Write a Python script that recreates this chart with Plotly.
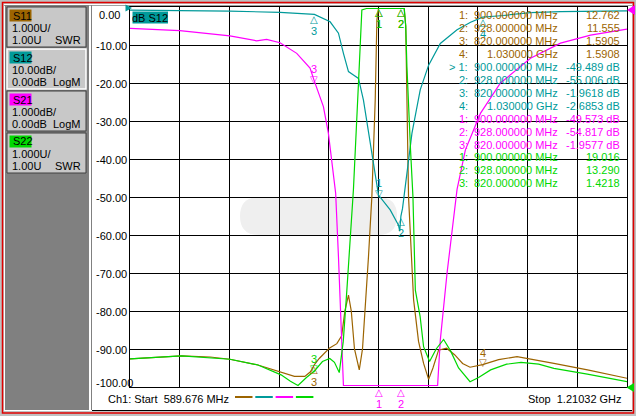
import numpy as np
import plotly.graph_objects as go

# window / plot geometry in screen pixels
W, H = 636, 416
ML, MR, MT, MB = 130, 9, 7, 29
PW, PH = W - ML - MR, H - MT - MB

start_mhz = 589.676
stop_mhz = 1210.32

# S11, SWR (brown)
s11_freq = [589.7, 620, 654, 690, 714.4, 749.5, 778.3, 795, 808, 815, 820, 826, 839, 848, 854, 858,
            862.5, 866, 870, 876, 880, 884, 887.5, 891.7, 895.9, 898, 899.5, 900, 915, 928, 932, 934,
            935.5, 937.5, 943.8, 950, 956.3, 962.6, 968, 975, 985, 995, 1005, 1014.3, 1030, 1050,
            1073, 1095, 1119, 1161, 1210.3]
s11_swr = [1.74, 1.78, 1.82, 1.79, 1.73, 1.58, 1.38, 1.28, 1.28, 1.40, 1.5905, 1.75, 2.03, 2.14, 2.35, 3.0,
           3.42, 3.0, 2.0, 1.45, 2.0, 3.2, 4.43, 6.01, 8.55, 10.66, 12.0, 12.762, 14.0, 11.555, 11.2, 10.5,
           8.55, 6.01, 3.3, 2.2, 1.62, 1.2, 1.5, 1.97, 2.02, 1.85, 1.62, 1.52, 1.5908, 1.72,
           1.80, 1.72, 1.62, 1.45, 1.23]

# S12, dB (teal)
s12_freq = [589.7, 651.9, 714.4, 777, 800, 820, 839.6, 850, 856.2, 862.5, 868.7, 875, 881.2, 887.5,
            893.7, 898, 900, 914.6, 925, 926.5, 928, 930, 931.3, 939.6, 941.8, 952.1, 962.6, 977.2,
            998.1, 1015, 1030, 1052.3, 1089.8, 1127.3, 1170, 1210.3]
s12_db = [-0.8, -0.9, -1.1, -1.4, -1.7, -1.9618, -3.9, -6.9, -12.2, -17.0, -17.9, -18.8, -24.5, -33.2,
          -42.0, -47.3, -49.489, -53.4, -57.4, -59.0, -55.006, -53.0, -50.8, -37.6, -33.2, -21.8, -15.3, -9.6,
          -6.0, -4.0, -2.6853, -2.3, -1.5, -1.2, -1.1, -1.0]

# S21, dB (magenta)
s21_freq = [589.7, 651.9, 714.4, 747.8, 760.3, 777, 797.9, 814.5, 820, 831.2, 837.4, 843.7, 846.5, 850,
            854.2, 856.2, 870, 900, 928, 960, 973.8, 977.2, 981.3, 985.6, 998.1, 1008.5, 1027.3, 1052.3,
            1089.8, 1127.3, 1164.8, 1210.3]
s21_db = [-0.56, -0.62, -0.76, -0.89, -0.85, -0.94, -1.22, -1.61, -1.9577, -2.62, -3.32, -4.38, -4.9, -6.57,
          -8.76, -10.2, -30, -49.573, -54.817, -25, -10.2, -8.76, -7.97, -7.0, -4.8, -3.76, -2.8, -2.0,
          -1.35, -0.95, -0.74, -0.58]

# S22, SWR (green)
s22_freq = [589.7, 654, 714.4, 749.5, 778.3, 790, 799.5, 810, 820, 830, 839.2, 845, 851, 856, 860.5,
            864.6, 868.7, 875, 879.2, 885, 900, 915, 928, 932.2, 934, 935.5, 940, 943, 946, 952, 956.3,
            963.8, 972, 981.3, 990, 1000, 1014.3, 1025, 1040, 1060, 1078, 1100, 1119, 1160.8, 1210.3]
s22_swr = [1.74, 1.82, 1.73, 1.58, 1.32, 1.15, 1.01, 1.25, 1.4218, 1.67, 1.75, 1.65, 1.38, 2.2, 3.55,
           4.87, 6.2, 9.0, 10.92, 13.0, 19.016, 20.0, 13.29, 11.3, 10.5, 9.43, 7.24, 6.01, 3.55, 2.85, 2.06,
           1.67, 2.0, 2.25, 1.95, 1.5, 1.14, 1.25, 1.45, 1.6, 1.65, 1.6, 1.49, 1.34, 1.14]

marker_freq = [900.0, 928.0, 820.0, 1030.0]
s11_marker = [12.762, 11.555, 1.5905, 1.5908]
s12_marker = [-49.489, -55.006, -1.9618, -2.6853]
s21_marker = [-49.573, -54.817, -1.9577]
s22_marker = [19.016, 13.290, 1.4218]

y_tick_values = [0, -10, -20, -30, -40, -50, -60, -70, -80, -90, -100]
y_tick_labels = ["0.00", "-10.00", "-20.00", "-30.00", "-40.00", "-50.00",
                 "-60.00", "-70.00", "-80.00", "-90.00", "-100.00"]

BROWN, TEAL, MAGENTA, GREEN = "#9c6400", "#009a9a", "#ff00ff", "#00d800"
FONT = "Liberation Sans, Arial, sans-serif"


def px(x):
    return (x - ML) / PW


def py(y):
    return 1 - (y - MT) / PH


def to_grid(v, scale, ref, ref_pos):
    # instrument formatting: value -> position on the 10 division screen (0 .. -100)
    return -100 + 10 * (ref_pos + (np.asarray(v, dtype=float) - ref) / scale)


# name, freqs, values, colour, scale/div, ref value, ref position (div from bottom), marker values, sides
traces = [
    ("S11", s11_freq, s11_swr, BROWN, 1.0, 1.0, 0, s11_marker, ["b", "b", "b", "a"]),
    ("S12", s12_freq, s12_db, TEAL, 10.0, 0.0, 10, s12_marker, ["a", "b", "b", "b"]),
    ("S21", s21_freq, s21_db, MAGENTA, 1.0, 0.0, 10, s21_marker, ["b", "b", "a"]),
    ("S22", s22_freq, s22_swr, GREEN, 1.0, 1.0, 0, s22_marker, ["b", "b", "a"]),
]

fig = go.Figure()
annotations = []

for name, fr, vals, col, scale, ref, rpos, mk, sides in traces:
    g = np.clip(to_grid(vals, scale, ref, rpos), -99.6, -0.4)
    fig.add_trace(go.Scatter(x=fr, y=g, mode="lines", line=dict(color=col, width=1.2),
                             hoverinfo="skip", showlegend=False))
    mg = np.clip(to_grid(mk, scale, ref, rpos), -100, 0)
    for i, (f, y) in enumerate(zip(marker_freq, mg)):
        up = sides[i] == "a"
        annotations.append(dict(x=f, y=y, xref="x", yref="y", text="▽" if up else "△",
                                showarrow=False, yshift=2 if up else -5,
                                font=dict(family="DejaVu Sans", size=10, color=col)))
        annotations.append(dict(x=f, y=y, xref="x", yref="y", text=str(i + 1),
                                showarrow=False, yshift=12 if up else -17,
                                font=dict(family=FONT, size=11, color=col)))


def txt(x, y, text, color="black", anchor="left", size=11):
    annotations.append(dict(x=px(x), y=py(y), xref="paper", yref="paper", text=text,
                            showarrow=False, xanchor=anchor, yanchor="middle",
                            font=dict(family=FONT, size=size, color=color)))


# marker readout
def fmt_freq(f):
    return f"{f / 1000:.6f} GHz" if f >= 1000 else f"{f:.6f} MHz"


row = 0
for name, fr, vals, col, scale, ref, rpos, mk, sides in traces:
    unit = " dB" if name in ("S12", "S21") else ""
    for i, v in enumerate(mk):
        y = 15 + row * 12.95
        label = f"{i + 1}:"
        if name == "S12" and i == 0:
            label = "> " + label
        txt(470, y, label, col, "right")
        txt(560, y, fmt_freq(marker_freq[i]), col, "right")
        txt(622, y, f"{v:#.5g}{unit}", col, "right")
        row += 1

# y axis labels of the active trace
for v, lab in zip(y_tick_values, y_tick_labels):
    yy = MT + (0 - v) / 100 * PH + 1
    if v == 0:
        yy = 15
    if v == -100:
        yy = 383
    txt(97 if v == 0 else 94, yy, lab)

txt(106, 399, "Ch1: Start  589.676 MHz")
txt(623.5, 399, "Stop  1.21032 GHz", anchor="right")
txt(150.2, 17.5, "dB S12", anchor="center")

# channel buttons
buttons = [
    ("S11", BROWN, "1.000U/", "1.00U", "SWR"),
    ("S12", TEAL, "10.00dB/", "0.00dB", "LogM"),
    ("S21", MAGENTA, "1.000dB/", "0.00dB", "LogM"),
    ("S22", GREEN, "1.000U/", "1.00U", "SWR"),
]

shapes = []


def rect(x0, y0, x1, y1, fill=None, line=None, lw=1, layer="below"):
    shapes.append(dict(type="rect", xref="paper", yref="paper", x0=px(x0), x1=px(x1),
                       y0=py(y0), y1=py(y1), fillcolor=fill or "rgba(0,0,0,0)",
                       line=dict(color=line or "rgba(0,0,0,0)", width=lw if line else 0),
                       layer=layer))


def poly(points, fill, layer="above"):
    path = "M " + " L ".join(f"{px(a):.5f},{py(b):.5f}" for a, b in points) + " Z"
    shapes.append(dict(type="path", xref="paper", yref="paper", path=path, fillcolor=fill,
                       line=dict(width=0), layer=layer))


rect(0, 0, W, H, fill="#c0c0c0")
rect(2.5, 2.5, 633.5, 413, line="#e00000", lw=1.5)
rect(4, 4, 632, 411, fill="#ffffff")
rect(4, 5, 632, 6, fill="#a0a0a0")
rect(5, 5, 89, 410, fill="#808080")
rect(91, 5, 92, 410, fill="#808080")
rect(92, 410, 632, 411, fill="#000000")

for k, (name, col, l1, l2, l3) in enumerate(buttons):
    top = 7 + 42 * k
    rect(7, top, 86, top + 40, fill="#c8c8c8",
         line="#ffffff" if name == "S12" else "#404040", lw=1.5 if name == "S12" else 1)
    rect(9.5, top + 2.5, 31.5, top + 14.5, fill=col)
    txt(10.5, top + 8.5, name)
    txt(10, top + 20.5, l1)
    txt(10, top + 33, l2)
    txt(83, top + 33, l3, anchor="right")

# "dB S12" tag and reference arrows
rect(132.5, 11.5, 168, 23.5, fill=TEAL, layer="above")
poly([(125.5, 4.5), (132, 8), (125.5, 11.5)], TEAL)
poly([(635, 5), (627, 10), (635, 15)], MAGENTA)
poly([(634, 383), (626.5, 387.5), (634, 392)], GREEN)

# faint tooltip ghost
gx0, gx1, gy0, gy1, r = 240, 397, 197, 235, 19
shapes.append(dict(type="path", xref="paper", yref="paper", layer="below",
                   fillcolor="#efefef", line=dict(width=0),
                   path=(f"M {px(gx0 + r)},{py(gy0)} L {px(gx1 - r)},{py(gy0)} "
                         f"Q {px(gx1)},{py(gy0)} {px(gx1)},{py((gy0 + gy1) / 2)} "
                         f"Q {px(gx1)},{py(gy1)} {px(gx1 - r)},{py(gy1)} "
                         f"L {px(gx0 + r)},{py(gy1)} "
                         f"Q {px(gx0)},{py(gy1)} {px(gx0)},{py((gy0 + gy1) / 2)} "
                         f"Q {px(gx0)},{py(gy0)} {px(gx0 + r)},{py(gy0)} Z")))

# trace colour legend dashes under the grid
for i, col in enumerate([BROWN, TEAL, MAGENTA, GREEN]):
    x0 = 235 + 20.3 * i
    rect(x0, 396, x0 + 17.5, 398, fill=col, layer="above")

fig.update_layout(
    width=W, height=H,
    margin=dict(l=ML, r=MR, t=MT, b=MB),
    paper_bgcolor="#ffffff",
    plot_bgcolor="rgba(0,0,0,0)",
    shapes=shapes,
    annotations=annotations,
    xaxis=dict(range=[start_mhz, stop_mhz], tickmode="linear", tick0=start_mhz,
               dtick=(stop_mhz - start_mhz) / 10, showgrid=True, gridcolor="#000000", gridwidth=1,
               showticklabels=False, ticks="", zeroline=False, showline=True, mirror=True,
               linecolor="#000000", linewidth=1, fixedrange=True),
    yaxis=dict(range=[-100, 0], tickmode="linear", tick0=0, dtick=10, showgrid=True,
               gridcolor="#000000", gridwidth=1, showticklabels=False, ticks="", zeroline=False,
               showline=True, mirror=True, linecolor="#000000", linewidth=1, fixedrange=True),
)

# the page's default body margin would shift the whole screen by 8 px
fig.write_html("out.html", config={"displayModeBar": False},
               post_script="document.body.style.margin = '0px';")
